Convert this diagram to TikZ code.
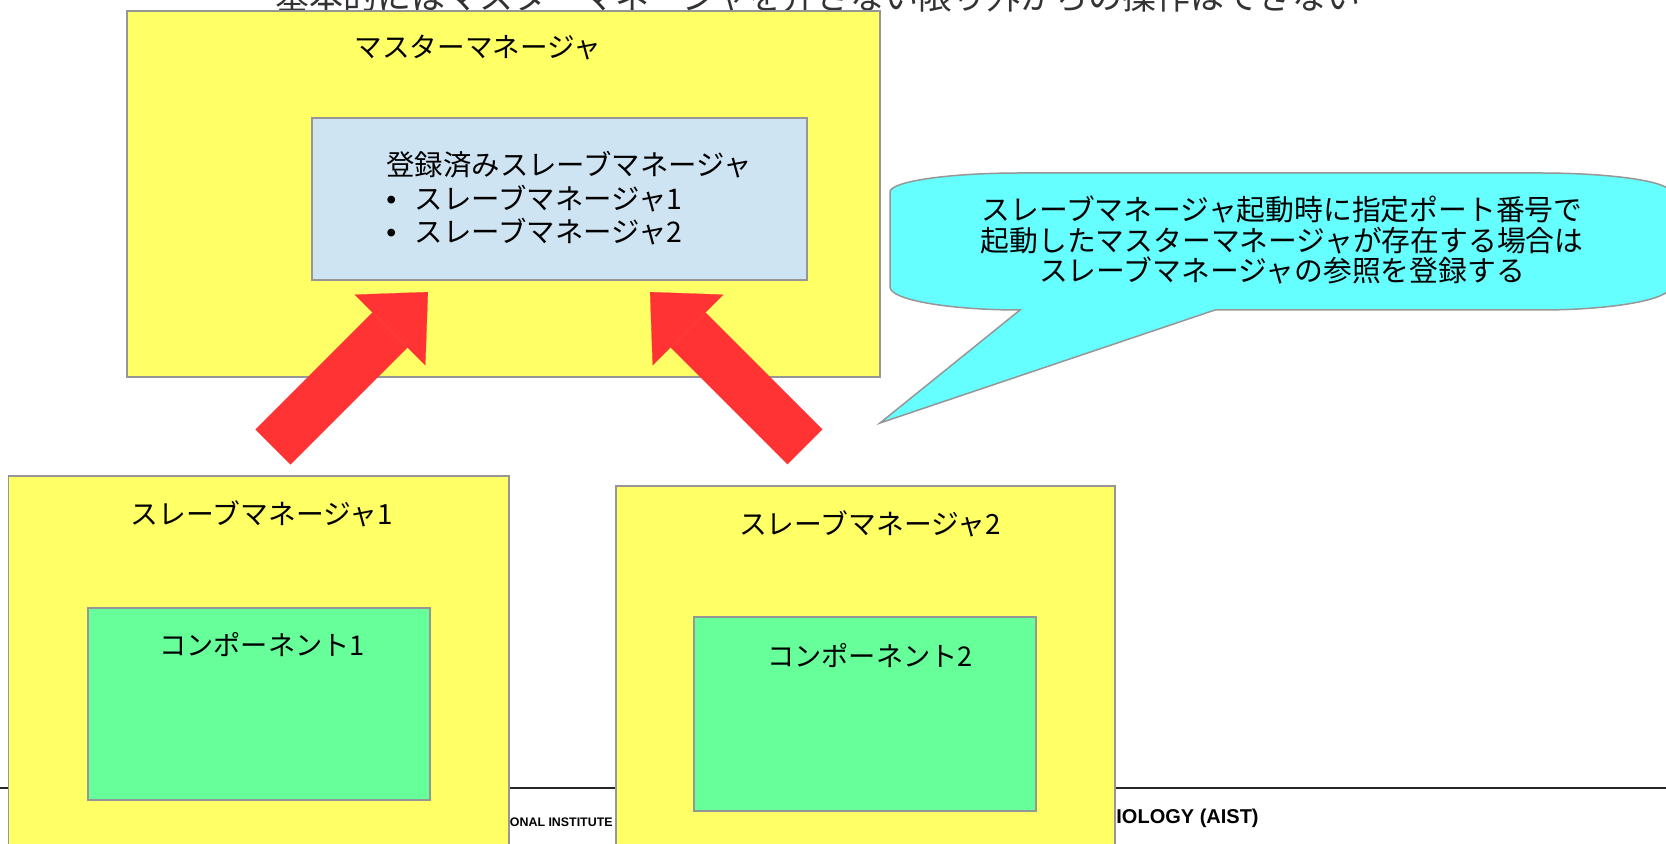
\documentclass[tikz,border=0pt]{standalone}
\usepackage{fontspec}
\usepackage{tikz}
\usetikzlibrary{positioning,arrows.meta}
\newfontfamily\jpfont{Noto Sans CJK JP}
\newfontfamily\latinfont{Liberation Sans}
\definecolor{color1}{RGB}{255,255,102}
\definecolor{color2}{RGB}{206,228,242}
\definecolor{color3}{RGB}{102,255,153}
\definecolor{color4}{RGB}{255,51,51}
\definecolor{color5}{RGB}{102,255,255}
\definecolor{color6}{RGB}{150,150,150}

\begin{document}
\begin{tikzpicture}[x=0.5pt,y=-0.5pt]
\tikzset{box/.style={draw=color6,line width=0.75pt,fill=#1,inner sep=0pt,outer sep=0pt},
  jp/.style={font=\jpfont\fontsize{#1}{#1}\selectfont,inner sep=0pt},
  big arrow/.style={draw=color4,line width=24.75pt,-{Triangle[length=26.85pt,width=50pt,line width=0.1pt]}}}
\useasboundingbox (0,0) rectangle (1666,844);
% Cabecera y pie
\node [jp=17, text=black!80, anchor=base] (head) at (818,10) {基本的にはマスターマネージャを介さない限り外からの操作はできない};
\coordinate (footL) at (0,788);
\coordinate (footR) at (1666,788);
\draw [line width=1pt, black!85] (footL) -- (footR);
\node [font=\latinfont\bfseries\fontsize{6.2}{7}\selectfont, anchor=base east, inner sep=0pt] (foot1) at (613,826) {ONAL INSTITUTE};
\node [font=\latinfont\bfseries\fontsize{10}{11}\selectfont, anchor=base west, inner sep=0pt] (foot2) at (1116,823) {IOLOGY (AIST)};
% Cajas
\node [box=color1, minimum width=376.5pt, minimum height=183pt] (master) at (503.5,194) {};
\node [jp=13.8] (mastertitle) at (478,48) {マスターマネージャ};
\node [box=color2, minimum width=247.5pt, minimum height=81pt] (registry) at (559.5,199) {};
\node [jp=14.2, font=\jpfont\fontsize{14.2}{16.75}\selectfont, align=left, anchor=west] (reglist) at (386,198.5)
  {登録済みスレーブマネージャ\\\makebox[14.2pt][l]{\latinfont •}スレーブマネージャ1\\\makebox[14.2pt][l]{\latinfont •}スレーブマネージャ2};
\node [box=color1, minimum width=250.25pt, minimum height=187pt] (slave1) at (258.75,663) {};
\node [jp=13.9] (slave1title) at (262,514) {スレーブマネージャ1};
\node [box=color3, minimum width=171pt, minimum height=96pt] (comp1) at (259,704) {};
\node [jp=13.6] (comp1title) at (262,645) {コンポーネント1};
\node [box=color1, minimum width=249.5pt, minimum height=182pt] (slave2) at (865.5,668) {};
\node [jp=13.9] (slave2title) at (870,524) {スレーブマネージャ2};
\node [box=color3, minimum width=171pt, minimum height=97pt] (comp2) at (865,714) {};
\node [jp=13.6] (comp2title) at (870,656) {コンポーネント2};
% Flechas
\coordinate (in1) at ([xshift=64pt]registry.south west);
\coordinate (in2) at ([xshift=163pt]registry.south west);
\draw [big arrow, shorten <=20.5pt, shorten >=8.5pt] ([xshift=117.75pt]slave1.north west) -- (in1);
\draw [big arrow, shorten <=27.6pt, shorten >=8.5pt] ([xshift=114pt]slave2.north west) -- (in2);
% Globo
\draw [draw=color6, line width=0.75pt, fill=color5] (1020,310) -- (880,423) -- (1215,310) -- (1540,310)
  .. controls (1612,310) and (1670,299.7) .. (1670,287) -- (1670,192)
  .. controls (1670,181.5) and (1612,173) .. (1540,173) -- (1020,173)
  .. controls (948,173) and (890,181.5) .. (890,192) -- (890,287)
  .. controls (890,299.7) and (948,310) .. (1020,310) -- cycle;
\node [jp=14.4, font=\jpfont\fontsize{14.4}{15.2}\selectfont, align=center] (note) at (1282,240)
  {スレーブマネージャ起動時に指定ポート番号で\\起動したマスターマネージャが存在する場合は\\スレーブマネージャの参照を登録する};
\end{tikzpicture}
\end{document}
